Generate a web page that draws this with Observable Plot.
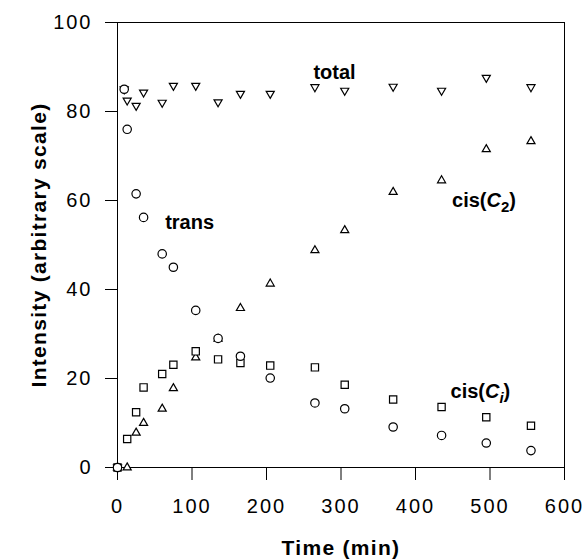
<!DOCTYPE html>
<html><head><meta charset="utf-8">
<script src="https://cdn.jsdelivr.net/npm/d3@7"></script>
<script src="https://cdn.jsdelivr.net/npm/@observablehq/plot@0.6"></script>
<style>
body{margin:0;background:#fff;}
g[aria-label="x-axis tick label"] text, g[aria-label="y-axis tick label"] text {letter-spacing:2px;}
</style></head><body><div id="chart"></div>
<script>
// time points (min)
const time  = [0, 9, 13, 25, 35, 60, 75, 105, 135, 165, 205, 265, 305, 370, 435, 495, 555];
// series values (arbitrary intensity); null = not drawn
const trans = [0, 85, 76, 61.5, 56.2, 48, 45, 35.3, 29, 25, 20.1, 14.5, 13.2, 9.1, 7.2, 5.5, 3.8];
const total = [0, 85, 82.5, 81.3, 84.3, 82, 85.8, 85.8, 82.1, 84, 84, 85.5, 84.7, 85.6, 84.7, 87.6, 85.5];
const cisC2 = [0, null, 0, 7.8, 10, 13.2, 17.8, 24.7, 28.9, 35.8, 41.3, 48.8, 53.3, 61.9, 64.5, 71.5, 73.3];
const cisCi = [0, null, 6.4, 12.4, 18, 21, 23.1, 26.1, 24.3, 23.5, 22.9, 22.5, 18.6, 15.3, 13.6, 11.3, 9.4];

// in-plot series labels
const labelText = ["total", "trans", "cis(C2)", "cis(Ci)"];
const labelTime = [263, 64, 449, 447];
const labelValue = [88.8, 55, 60, 17];

const xTicks = [0, 100, 200, 300, 400, 500, 600];
const yTicks = [0, 20, 40, 60, 80, 100];
const xTitle = "Time (min)";
const yTitle = "Intensity (arbitrary scale)";

const triangleDown = {
  draw(context, size) {
    const y = -Math.sqrt(size / (Math.sqrt(3) * 3));
    context.moveTo(0, -y * 2);
    context.lineTo(-Math.sqrt(3) * y, y);
    context.lineTo(Math.sqrt(3) * y, y);
    context.closePath();
  }
};

const rowsOf = (vals) => time.map((t, i) => ({t, v: vals[i]})).filter(d => d.v != null);
const labels = labelText.map((s, i) => ({s, t: labelTime[i], v: labelValue[i]}));

const dotStyle = {x: "t", y: "v", fill: "white", stroke: "black", strokeWidth: 1.2};

const chart = Plot.plot({
  width: 587,
  height: 560,
  marginLeft: 117,
  marginRight: 23,
  marginTop: 22,
  marginBottom: 93,
  style: {fontFamily: "'Liberation Sans', Arial, Helvetica, sans-serif", background: "white", color: "black"},
  x: {domain: [0, 600], ticks: xTicks},
  y: {domain: [0, 100], ticks: yTicks},
  marks: [
    Plot.frame({stroke: "black", strokeWidth: 1}),
    Plot.axisX(xTicks, {tickSize: 13, tickPadding: 18, fontSize: 20, label: null, stroke: "black"}),
    Plot.axisY(yTicks, {tickSize: 12, tickPadding: 13, fontSize: 20, label: null, stroke: "black"}),
    Plot.text([xTitle], {frameAnchor: "bottom", dy: 81, textAnchor: "middle", lineAnchor: "middle", fontSize: 21, fontWeight: "bold"}),
    Plot.text([yTitle], {frameAnchor: "left", dx: -78, rotate: -90, textAnchor: "middle", lineAnchor: "middle", fontSize: 21, fontWeight: "bold"}),
    Plot.dot(rowsOf(total), {...dotStyle, symbol: triangleDown, r: 3.0}),
    Plot.dot(rowsOf(cisC2), {...dotStyle, symbol: "triangle", r: 3.0}),
    Plot.dot(rowsOf(cisCi), {...dotStyle, symbol: "square", r: 4.1}),
    Plot.dot(rowsOf(trans), {...dotStyle, symbol: "circle", r: 4.2}),
    Plot.text(labels, {x: "t", y: "v", text: "s", textAnchor: "start", lineAnchor: "middle", fontSize: 20, fontWeight: "bold"})
  ]
});

d3.select(chart).selectAll("text").each(function() {
  const el = d3.select(this);
  const s = el.text();
  if (s === xTitle || s === yTitle) { el.style("letter-spacing", "1.3px"); return; }
  const m = s.match(/^cis\(C(.)\)$/);
  if (!m) return;
  el.text(null);
  el.append("tspan").text("cis(");
  el.append("tspan").attr("font-style", "italic").text("C");
  const sub = el.append("tspan").attr("dy", 5).attr("font-size", 15).text(m[1]);
  if (m[1] === "i") sub.attr("font-style", "italic");
  el.append("tspan").attr("dy", -5).text(")");
});

document.getElementById("chart").appendChild(chart);
</script>
</body></html>
